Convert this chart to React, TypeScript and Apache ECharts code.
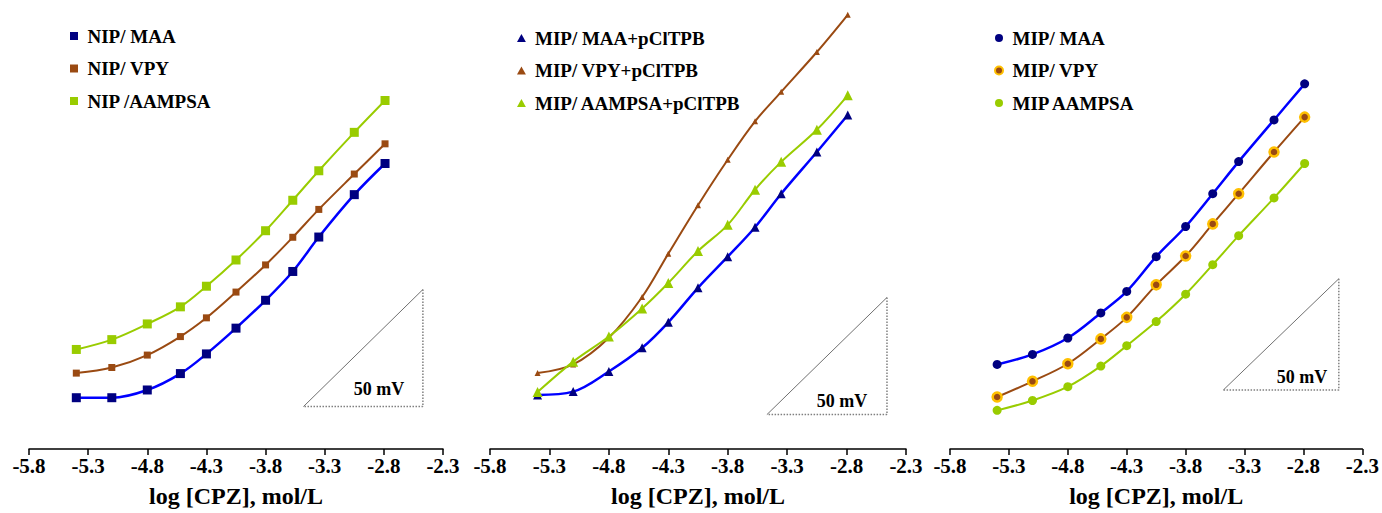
import React, { useEffect, useRef } from "react";
import * as echarts from "echarts";

// ---- Data ----
const X_TICKS = [-5.8, -5.3, -4.8, -4.3, -3.8, -3.3, -2.8, -2.3];
const LOG_CPZ = [-5.4, -5.1, -4.8, -4.52, -4.3, -4.05, -3.8, -3.57, -3.35, -3.05, -2.79];

// Panel 1 (NIP), potential in mV (relative)
const NIP_MAA = [21.9, 21.9, 25.2, 32.2, 40.6, 51.6, 63.5, 75.8, 90.5, 108.6, 121.9];
const NIP_VPY = [32.4, 34.8, 40.1, 48.0, 56.0, 67.0, 78.6, 90.4, 102.3, 117.4, 130.3];
const NIP_AAMPSA = [42.5, 46.7, 53.4, 60.7, 69.5, 80.7, 93.2, 106.2, 118.8, 135.2, 148.8];

// Panel 2 (MIP + pClTPB)
const MIPC_MAA = [23.1, 24.5, 33.1, 43.2, 54.1, 68.8, 82.1, 94.7, 109.0, 126.8, 142.6];
const MIPC_VPY = [32.4, 36.1, 47.5, 64.9, 83.4, 104.1, 123.5, 139.9, 152.5, 169.5, 185.4];
const MIPC_AAMPSA = [24.3, 37.3, 48.0, 60.0, 70.9, 84.5, 95.7, 110.7, 122.6, 136.3, 151.0];

// Panel 3 (MIP)
const MIP_MAA = [36.1, 40.4, 47.4, 58.1, 67.3, 82.1, 95.0, 109.0, 122.7, 140.5, 155.9];
const MIP_VPY = [22.2, 28.9, 36.4, 47.0, 56.2, 70.1, 82.4, 96.1, 109.0, 126.8, 141.7];
const MIP_AAMPSA = [16.5, 20.7, 26.6, 35.4, 44.1, 54.4, 66.1, 78.7, 91.1, 107.2, 121.9];

// 50 mV slope triangles: [x, y] vertices (one decade x 50 mV)
const TRI_1 = [[-3.48, 18.1], [-2.47, 68.1], [-2.47, 18.1], [-3.48, 18.1]];
const TRI_2 = [[-3.47, 14.7], [-2.46, 64.7], [-2.46, 14.7], [-3.47, 14.7]];
const TRI_3 = [[-3.48, 25.2], [-2.5, 72.7], [-2.5, 25.2], [-3.48, 25.2]];

const FONT = '"Liberation Serif", "Times New Roman", serif';
const NAVY = "#000080";
const BLUE = "#0000FF";
const BROWN = "#9A4A12";
const GREEN = "#99CC00";
const GOLD = "#FFC000";

const ICON_SQUARE = "path://M0,0L10,0L10,10L0,10Z";
const ICON_TRI = "path://M5,0L10,9L0,9Z";
const ICON_CIRCLE = "path://M5,0A5,5,0,1,1,5,10A5,5,0,1,1,5,0Z";

const GRIDS = [
  { left: 29, width: 414 },
  { left: 490, width: 416 },
  { left: 950, width: 415 },
];

function pts(ys: number[]) {
  return LOG_CPZ.map((x, i) => [x, ys[i]]);
}

function curve(
  name: string,
  ys: number[],
  panel: number,
  symbol: string,
  symbolSize: number,
  markerColor: string,
  lineColor: string,
  lineWidth: number,
  extra: any = {}
) {
  return {
    type: "line",
    name,
    xAxisIndex: panel,
    yAxisIndex: panel,
    data: pts(ys),
    smooth: 0.35,
    symbol,
    symbolSize,
    showAllSymbol: true,
    itemStyle: { color: markerColor, ...(extra.itemStyle || {}) },
    lineStyle: { color: lineColor, width: lineWidth },
    z: extra.z || 3,
  };
}

function triangle(tri: number[][], panel: number) {
  return [
    {
      type: "line",
      name: "tri-h" + panel,
      xAxisIndex: panel,
      yAxisIndex: panel,
      data: [tri[0], tri[1]],
      symbol: "none",
      silent: true,
      lineStyle: { color: "#707070", width: 1, type: "solid" },
      z: 1,
    },
    {
      type: "line",
      name: "tri-l" + panel,
      xAxisIndex: panel,
      yAxisIndex: panel,
      data: [tri[1], tri[2], tri[3]],
      symbol: "none",
      silent: true,
      lineStyle: { color: "#808080", width: 1.5, type: "dotted" },
      z: 1,
    },
  ];
}

const legendText = {
  fontFamily: FONT,
  fontWeight: "bold",
  fontSize: 19,
  color: "#000",
  lineHeight: 20,
};

function legend(names: string[], icon: string, left: number, top: number) {
  return {
    orient: "vertical",
    left,
    top,
    padding: 0,
    itemWidth: 17,
    itemHeight: 8,
    itemGap: 12.5,
    selectedMode: false,
    icon,
    data: names,
    textStyle: legendText,
  };
}

export default function App() {
  const ref = useRef<HTMLDivElement>(null);

  useEffect(() => {
    if (!ref.current) return;
    const chart = echarts.init(ref.current, undefined, { renderer: "svg" });

    const xAxes = GRIDS.map((_, i) => ({
      gridIndex: i,
      type: "value",
      min: -5.8,
      max: -2.3,
      axisLine: { show: true, onZero: false, lineStyle: { color: "#000", width: 1.5 } },
      axisTick: {
        show: true,
        customValues: X_TICKS,
        length: 6,
        lineStyle: { color: "#000", width: 1.5 },
      },
      axisLabel: {
        customValues: X_TICKS,
        formatter: (v: number) => v.toFixed(1),
        fontSize: 21,
        fontWeight: "bold",
        fontFamily: FONT,
        color: "#000",
        margin: 6,
      },
      splitLine: { show: false },
      name: "log [CPZ], mol/L",
      nameLocation: "middle",
      nameGap: 35,
      nameTextStyle: { fontSize: 24, fontWeight: "bold", fontFamily: FONT, color: "#000" },
    }));

    const yAxes = GRIDS.map((_, i) => ({
      gridIndex: i,
      type: "value",
      min: 0,
      max: 190,
      show: false,
    }));

    const series: any[] = [
      curve("NIP/ MAA", NIP_MAA, 0, "rect", 9, NAVY, BLUE, 2.5, { z: 4 }),
      curve("NIP/ VPY", NIP_VPY, 0, "rect", 7, BROWN, BROWN, 2),
      curve("NIP /AAMPSA", NIP_AAMPSA, 0, "rect", 9, GREEN, GREEN, 2),

      curve("MIP/ MAA+pClTPB", MIPC_MAA, 1, "triangle", 9, NAVY, BLUE, 2.5, { z: 4 }),
      curve("MIP/ VPY+pClTPB", MIPC_VPY, 1, "triangle", 6, BROWN, BROWN, 2),
      curve("MIP/ AAMPSA+pClTPB", MIPC_AAMPSA, 1, "triangle", 10, GREEN, GREEN, 2, { z: 4 }),

      curve("MIP/ MAA", MIP_MAA, 2, "circle", 9, NAVY, BLUE, 2.5, { z: 4 }),
      curve("MIP/ VPY", MIP_VPY, 2, "circle", 9, BROWN, BROWN, 2, {
        itemStyle: { borderColor: GOLD, borderWidth: 2.5 },
      }),
      curve("MIP AAMPSA", MIP_AAMPSA, 2, "circle", 9, GREEN, GREEN, 2),

      ...triangle(TRI_1, 0),
      ...triangle(TRI_2, 1),
      ...triangle(TRI_3, 2),
    ];

    const mvText = (x: number, y: number) => ({
      type: "text",
      x,
      y,
      silent: true,
      style: {
        text: "50 mV",
        fill: "#000",
        font: `bold 18px ${FONT}`,
        align: "center",
        verticalAlign: "middle",
      },
    });

    chart.setOption({
      animation: false,
      backgroundColor: "#fff",
      grid: GRIDS.map((g) => ({ left: g.left, width: g.width, top: 4, height: 452 })),
      xAxis: xAxes,
      yAxis: yAxes,
      legend: [
        legend(["NIP/ MAA", "NIP/ VPY", "NIP /AAMPSA"], ICON_SQUARE, 70, 26),
        legend(["MIP/ MAA+pClTPB", "MIP/ VPY+pClTPB", "MIP/ AAMPSA+pClTPB"], ICON_TRI, 517, 28),
        legend(["MIP/ MAA", "MIP/ VPY", "MIP AAMPSA"], ICON_CIRCLE, 994, 28),
      ],
      graphic: [mvText(379, 389), mvText(842, 401), mvText(1302, 377)],
      series,
    });

    return () => chart.dispose();
  }, []);

  return (
    <div
      ref={ref}
      style={{ position: "absolute", left: 0, top: 0, width: 1382, height: 513 }}
    />
  );
}
